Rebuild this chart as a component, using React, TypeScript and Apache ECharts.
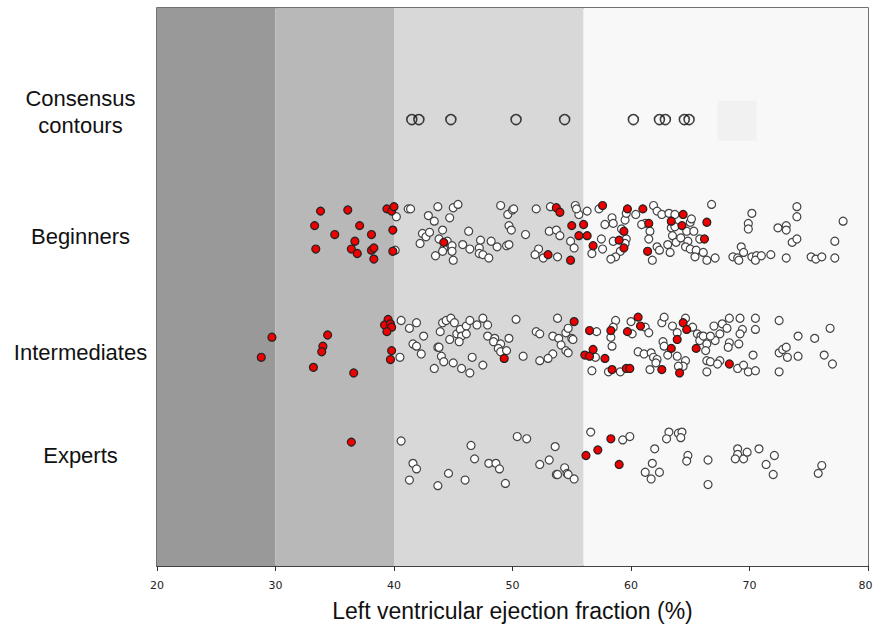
import React, { useEffect, useRef } from "react";
import * as echarts from "echarts";

// Category labels (top to bottom)
const categoryLabels = ["Consensus\ncontours", "Beginners", "Intermediates", "Experts"];

// LVEF classification bands [from, to, colour]
const bandEdges = [20, 30, 40, 56, 80];
const bandColors = ["#999999", "#b8b8b8", "#d8d8d8", "#f8f8f8"];

// Consensus contours (EF values, row position 4)
const consensusEF = [41.5, 42.1, 44.8, 50.3, 54.4, 60.2, 62.4, 62.9, 64.5, 64.9];
const consensusRow = 4;

// Beginners: [EF, jittered row]
const beginnersRed = [
  [33.8, 3.18], [36.1, 3.19], [33.3, 3.05], [35.0, 2.97], [37.1, 3.05], [33.4, 2.84], [36.4, 2.84],
  [36.9, 2.8], [36.7, 2.91], [38.1, 2.97], [38.1, 2.83], [38.3, 2.85], [38.3, 2.75], [39.9, 3.01],
  [39.9, 2.82], [39.4, 3.2], [39.8, 3.18], [40.0, 3.22], [44.2, 2.9],
  [53.7, 3.21], [54.0, 3.17], [56.0, 3.06], [55.0, 3.05], [55.6, 2.96], [56.3, 2.96], [56.8, 2.87],
  [53.0, 2.79], [54.9, 2.74], [57.6, 3.23], [59.7, 3.2], [61.0, 3.2], [61.5, 3.07], [59.4, 3.0],
  [59.0, 2.92], [59.4, 2.85], [61.4, 2.82], [63.4, 3.09], [64.4, 3.15], [64.3, 3.05], [66.4, 3.08],
  [66.2, 2.93],
];
const beginnersOther = [
  [40.1, 2.83], [40.2, 3.13], [41.2, 3.2], [41.4, 3.2], [43.7, 3.22], [45.0, 3.21], [45.4, 3.24],
  [42.9, 3.14], [43.4, 3.09], [44.7, 3.12], [42.4, 2.98], [42.7, 2.95], [43.0, 2.99], [44.1, 3.01],
  [43.8, 2.93], [44.5, 2.91], [44.2, 2.84], [44.1, 2.82], [44.9, 2.87], [44.9, 2.82], [45.0, 2.74],
  [43.5, 2.78], [42.2, 2.89], [45.8, 2.88], [46.3, 3.0], [46.4, 2.84], [47.2, 2.85], [47.3, 2.92],
  [47.2, 2.8], [47.5, 2.79], [48.0, 2.76], [48.2, 2.91], [48.7, 2.86],
  [49.0, 3.23], [49.6, 3.15], [50.0, 3.19], [50.1, 3.2], [49.7, 3.05], [49.9, 3.01], [49.5, 2.87],
  [49.7, 2.88], [51.1, 2.97], [52.0, 3.2], [53.2, 3.22], [53.1, 3.0], [53.7, 3.01], [54.0, 2.96],
  [55.3, 3.23], [55.6, 3.15], [55.4, 3.2], [56.3, 3.18], [57.3, 3.2], [54.9, 2.91], [55.2, 2.85],
  [52.2, 2.84], [51.9, 2.79], [52.6, 2.76], [53.8, 2.77], [56.7, 2.8], [57.5, 2.93], [57.6, 2.84],
  [58.4, 3.12], [57.8, 3.06], [58.5, 3.07], [59.5, 3.1], [59.6, 3.16], [59.2, 3.02], [59.6, 2.93],
  [59.5, 2.89], [58.5, 2.91], [59.1, 2.82], [58.7, 2.77], [58.3, 2.75], [60.4, 3.15], [61.2, 3.07],
  [60.9, 3.06], [61.9, 3.23], [62.2, 3.18], [62.6, 3.15], [63.2, 3.16], [63.7, 3.15], [63.4, 3.03],
  [63.7, 3.04], [63.5, 2.96], [63.8, 2.9], [63.1, 2.88], [64.2, 2.94], [64.8, 2.91], [64.6, 2.86],
  [65.0, 2.84], [65.0, 3.08], [65.1, 3.11], [64.7, 3.0], [65.3, 3.0], [65.5, 2.83], [65.8, 2.93],
  [66.1, 2.81], [65.4, 2.77], [62.2, 2.86], [62.4, 2.83], [63.3, 2.81], [61.6, 3.0], [61.5, 2.93],
  [61.8, 2.74], [66.4, 2.74], [67.1, 2.76], [66.8, 3.24], [68.6, 2.77], [69.0, 2.76], [69.1, 2.74],
  [69.3, 2.86], [69.5, 2.81], [70.2, 2.77], [70.6, 2.78], [70.5, 2.74], [71.0, 2.78], [71.8, 2.79],
  [70.2, 3.16], [69.9, 3.07], [69.9, 3.02], [72.4, 3.03], [73.1, 3.05], [73.1, 3.01], [73.6, 2.9],
  [74.0, 2.93], [74.0, 3.22], [74.0, 3.13], [73.1, 2.76], [75.2, 2.77], [75.6, 2.75], [76.1, 2.77],
  [77.2, 2.91], [77.2, 2.76], [77.9, 3.09],
];

// Intermediates
const intermediatesRed = [
  [29.7, 2.05], [28.8, 1.87], [34.4, 2.07], [34.0, 1.97], [33.9, 1.92], [33.2, 1.78], [36.6, 1.73],
  [39.5, 2.21], [39.2, 2.16], [39.7, 2.17], [39.8, 2.14], [39.4, 2.1], [39.8, 1.93], [39.7, 1.85],
  [49.3, 1.86],
  [55.2, 2.19], [56.5, 2.11], [56.1, 1.89], [56.5, 1.88], [56.8, 1.94], [57.8, 1.86], [58.4, 1.76],
  [59.6, 1.77], [59.9, 1.77], [58.3, 2.11], [59.7, 2.1], [60.6, 2.23], [60.8, 2.15], [64.4, 2.18],
  [64.7, 2.12], [63.9, 2.03], [63.4, 1.95], [65.5, 1.95], [68.3, 1.81], [62.6, 1.76], [64.1, 1.73],
];
const intermediatesOther = [
  [40.6, 2.2], [41.3, 2.13], [41.9, 2.18], [42.5, 2.06], [41.6, 1.99], [41.9, 1.97], [42.3, 1.9],
  [40.5, 1.87], [43.7, 1.96], [43.8, 1.96], [44.0, 1.88], [44.2, 1.83], [43.4, 1.77], [43.9, 2.1],
  [44.1, 2.18], [44.4, 2.2], [44.8, 2.22], [45.1, 2.18], [45.3, 2.08], [45.6, 2.12], [45.7, 2.06],
  [45.5, 2.01], [44.7, 2.03], [46.1, 2.15], [46.4, 2.2], [46.1, 2.08], [47.0, 2.16], [47.5, 2.22],
  [47.9, 2.16], [47.9, 2.06], [48.5, 2.04], [48.4, 2.01], [49.0, 1.99], [48.8, 1.95], [49.0, 1.92],
  [49.5, 1.93], [49.7, 2.04], [46.6, 1.87], [45.0, 1.82], [45.7, 1.77], [46.4, 1.73], [47.5, 1.8],
  [50.3, 2.21], [50.9, 1.88], [52.0, 2.1], [52.3, 2.08], [53.4, 2.06], [53.9, 2.04], [54.1, 1.98],
  [53.8, 2.22], [54.5, 2.09], [54.7, 2.13], [55.0, 2.04], [55.1, 2.03], [54.5, 1.93], [54.7, 1.91],
  [53.4, 1.9], [53.0, 1.86], [52.3, 1.84], [57.1, 2.1], [57.0, 1.87], [56.7, 1.75], [58.1, 1.74],
  [59.1, 1.74], [58.7, 2.2], [58.5, 2.14], [58.3, 2.05], [58.4, 1.97], [60.0, 2.19], [60.1, 2.08],
  [61.2, 2.14], [61.5, 2.09], [60.6, 1.92], [61.1, 1.9], [61.7, 1.91], [61.9, 1.87], [62.2, 1.85],
  [62.1, 1.82], [61.6, 1.76], [62.6, 2.18], [62.8, 2.23], [63.5, 2.15], [63.9, 2.09], [62.7, 2.01],
  [62.8, 1.97], [63.1, 1.89], [63.9, 1.88], [64.6, 1.84], [64.4, 1.79], [64.0, 1.79], [64.6, 2.22],
  [65.2, 2.14], [65.6, 2.08], [65.9, 2.06], [65.8, 2.02], [66.1, 2.06], [66.4, 1.99], [66.3, 1.93],
  [66.4, 1.84], [66.7, 1.83], [67.0, 2.15], [67.1, 2.02], [66.7, 2.06], [67.5, 2.08], [67.7, 2.17],
  [68.1, 2.13], [68.3, 2.22], [68.3, 2.0], [68.2, 1.96], [67.5, 1.84], [67.3, 1.81], [66.4, 1.74],
  [69.0, 1.77], [69.5, 1.8], [69.9, 1.74], [70.5, 1.75], [69.2, 2.22], [69.4, 2.12], [69.2, 2.08],
  [69.1, 1.99], [70.3, 1.89], [70.5, 2.22], [70.5, 2.12], [72.5, 2.2], [74.1, 2.06], [72.5, 1.91],
  [72.8, 1.94], [73.1, 1.96], [73.2, 1.87], [74.1, 1.88], [72.5, 1.74], [75.5, 2.04], [76.8, 2.13],
  [76.3, 1.89], [77.0, 1.81],
];

// Experts
const expertsRed = [[36.4, 1.11], [56.2, 0.99], [57.2, 1.04], [58.3, 1.14], [59.0, 0.91]];
const expertsOther = [
  [40.6, 1.12], [41.6, 0.92], [41.9, 0.87], [41.3, 0.77], [43.7, 0.72], [44.6, 0.83], [46.0, 0.77],
  [46.5, 1.08], [46.8, 0.96], [48.0, 0.92], [48.6, 0.92], [48.9, 0.87], [49.4, 0.74], [50.4, 1.16],
  [51.2, 1.14], [52.3, 0.91], [53.1, 0.95], [53.6, 1.07], [53.7, 0.82], [53.8, 0.82], [54.4, 0.88],
  [54.6, 0.83], [54.7, 0.82], [55.2, 0.78], [56.6, 1.2],
  [59.3, 1.13], [59.9, 1.16], [62.0, 1.05], [61.8, 0.92], [61.2, 0.84], [61.7, 0.78], [62.4, 0.84],
  [63.2, 1.2], [63.0, 1.14], [64.0, 1.19], [64.3, 1.2], [64.2, 1.15], [64.8, 0.99], [64.7, 0.94],
  [66.5, 0.95], [66.5, 0.73], [69.0, 1.05], [69.0, 1.0], [68.8, 0.96], [69.5, 0.96], [69.8, 1.02],
  [70.8, 1.05], [72.1, 0.99], [71.4, 0.91], [72.0, 0.82], [75.8, 0.83], [76.1, 0.9],
];

const xTitle = "Left ventricular ejection fraction (%)";
const xMax = 80;

export default function App() {
  const ref = useRef<HTMLDivElement>(null);

  useEffect(() => {
    if (!ref.current) return;
    const chart = echarts.init(ref.current, null, { renderer: "svg" });

    const bands = bandColors.map((c, i) => [
      { xAxis: bandEdges[i], itemStyle: { color: c } },
      { xAxis: bandEdges[i + 1] },
    ]);
    bands.push([
      { coord: [67.3, 4.17], itemStyle: { color: "#f1f1f1" } } as any,
      { coord: [70.6, 3.81] } as any,
    ]);

    const whiteStyle = { color: "#ffffff", borderColor: "#444444", borderWidth: 1.2, opacity: 1 };
    const redStyle = { color: "#ee0000", borderColor: "#222222", borderWidth: 1.2, opacity: 1 };

    const labelY = [112, 236, 352, 455];

    chart.setOption({
      animation: false,
      grid: {
        left: 157,
        right: 6,
        top: 8,
        bottom: 63,
        show: true,
        outerBoundsMode: "none",
        containLabel: false,
        borderColor: "#444444",
        borderWidth: 1.5,
        backgroundColor: "transparent",
      },
      xAxis: {
        type: "value",
        min: 20,
        max: xMax,
        interval: 10,
        name: xTitle,
        nameLocation: "middle",
        nameGap: 33,
        nameTextStyle: { fontSize: 23, fontFamily: "Liberation Sans", color: "#111" },
        axisLine: { show: true, onZero: false, lineStyle: { color: "#333", width: 1.5 } },
        axisTick: { show: true, inside: false, length: 5, lineStyle: { color: "#333" } },
        axisLabel: {
          fontSize: 11,
          color: "#222",
          fontFamily: "DejaVu Sans",
          margin: 14,
          formatter: (v: number) => (v === xMax ? "{last|" + v + "}" : String(v)),
          rich: {
            last: { fontSize: 11, color: "#222", fontFamily: "DejaVu Sans", padding: [0, 5, 0, 0] },
          },
        },
        splitLine: { show: false },
      },
      yAxis: {
        type: "value",
        min: 0,
        max: 5,
        axisLine: { show: false },
        axisTick: { show: false },
        axisLabel: { show: false },
        splitLine: { show: false },
      },
      graphic: categoryLabels.map((t, i) => ({
        type: "text",
        x: 80.5,
        y: labelY[i],
        style: {
          text: t,
          fontSize: 22,
          fontFamily: "Liberation Sans",
          fill: "#111",
          textAlign: "center",
          textVerticalAlign: "middle",
          lineHeight: 27,
        },
      })),
      series: [
        {
          type: "scatter",
          data: [],
          z: 1,
          silent: true,
          markArea: { silent: true, data: bands },
        },
        {
          type: "scatter",
          z: 3,
          symbolSize: 8,
          itemStyle: whiteStyle,
          data: [...beginnersOther, ...intermediatesOther, ...expertsOther],
        },
        {
          type: "scatter",
          z: 4,
          symbolSize: 8,
          itemStyle: redStyle,
          data: [...beginnersRed, ...intermediatesRed, ...expertsRed],
        },
        {
          type: "scatter",
          z: 4,
          symbolSize: 10,
          itemStyle: { color: "rgba(0,0,0,0)", borderColor: "#111", borderWidth: 1.6 },
          data: consensusEF.map((v) => [v, consensusRow]),
        },
      ],
    });

    return () => chart.dispose();
  }, []);

  return (
    <div
      ref={ref}
      style={{ position: "fixed", left: 0, top: 0, width: 874, height: 629, background: "#fff" }}
    />
  );
}
